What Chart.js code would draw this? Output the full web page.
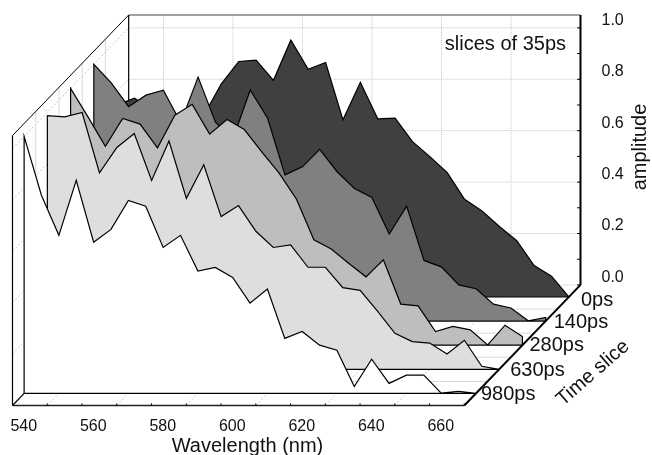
<!DOCTYPE html>
<html>
<head>
<meta charset="utf-8">
<script src="https://cdn.jsdelivr.net/npm/chart.js@4"></script>
<style>
html, body { margin: 0; padding: 0; background: #fff; }
canvas { display: block; }
</style>
</head>
<body>
<canvas id="chart" width="652" height="455"></canvas>
<script>
// values, one point each 5 nm
var wavelengths = [530,535,540,545,550,555,560,565,570,575,580,585,590,595,600,605,610,615,620,625,630,635,640,645,650,655,660];
var sliceLabels = ['0ps', '140ps', '280ps', '630ps', '980ps'];
var amp0ps   = [.747,.773,.728,.669,.650,.708,.829,.916,.921,.843,.999,.886,.912,.689,.835,.693,.696,.604,.546,.484,.380,.335,.274,.219,.122,.081,0];
var amp140ps = [.999,.927,.834,.879,.898,.772,.949,.774,.708,.899,.789,.569,.600,.668,.581,.516,.481,.339,.447,.236,.211,.141,.126,.066,.051,.001,.014];
var amp280ps = [.999,.888,.774,.882,.860,.768,.895,.937,.821,.878,.839,.752,.669,.568,.410,.374,.319,.266,.332,.160,.153,.053,.073,.060,.001,.078,.034];
var amp630ps = [.987,.982,.999,.764,.863,.917,.735,.888,.665,.796,.594,.637,.537,.474,.484,.397,.397,.318,.307,.226,.140,.108,.102,.060,.113,.012,0];
var amp980ps = [1,.770,.615,.829,.588,.638,.751,.728,.568,.615,.476,.490,.451,.351,.406,.214,.241,.188,.168,.027,.133,.039,.071,.071,.001,.008,0];
var sliceValues = [amp0ps, amp140ps, amp280ps, amp630ps, amp980ps];
var sliceFills = ['#404040', '#808080', '#bebebe', '#dedede', '#ffffff'];
var xTicks = [540,560,580,600,620,640,660];
var yTicks = [0,.2,.4,.6,.8,1];

var xMin = 530, xMax = 660, yTop = 1.05;
// oblique projection: one slice of depth shifts the plot by this much in axis units
var depthX = 6.686, depthY = 0.0938, nSlices = sliceLabels.length;

function proj(nm, amp, depth) {
  return { x: nm + depth * depthX, y: amp + (depth - nSlices) * depthY };
}

var datasets = [];
function addLine(points, color, width, dash) {
  datasets.push({
    data: points,
    showLine: true,
    borderColor: color,
    borderWidth: width,
    borderDash: dash || [],
    pointRadius: 0,
    tension: 0,
    fill: false,
    clip: false
  });
}

// floor, back wall and side wall grids
var gridGrey = '#c4c4c4';
xTicks.forEach(function(nm) {
  addLine([proj(nm, 0, nSlices), proj(nm, yTop, nSlices)], gridGrey, 1, [1, 1]);
  addLine([proj(nm, 0, 0), proj(nm, 0, nSlices)], gridGrey, 1, [2, 2]);
});
yTicks.forEach(function(a) {
  addLine([proj(xMin, a, nSlices), proj(xMax, a, nSlices)], gridGrey, 1, [1, 1]);
  addLine([proj(xMin, a, 0), proj(xMin, a, nSlices)], gridGrey, 1, [2, 2]);
});
for (var d = 1; d < nSlices; d++) {
  addLine([proj(xMin, 0, d), proj(xMax, 0, d)], '#d8d8d8', 1);
  addLine([proj(xMin, 0, d), proj(xMin, yTop, d)], '#d8d8d8', 1);
}

// back frame
addLine([proj(xMin, yTop, nSlices), proj(xMax, yTop, nSlices)], '#808080', 1.5);
addLine([proj(xMin, 0, nSlices), proj(xMin, yTop, nSlices)], '#000', 1.2);
addLine([proj(xMax, 0, nSlices), proj(xMax, yTop, nSlices)], '#000', 2);
addLine([proj(xMin, yTop, 0), proj(xMin, yTop, nSlices)], '#000', 1);
addLine([proj(xMin, 0, 0), proj(xMin, yTop, 0)], '#000', 1.2);
for (var t = 0; t <= 10; t++) {
  addLine([proj(xMax, t / 10, nSlices), proj(xMax - 1, t / 10, nSlices)], '#000', 1);
}

// slices from back to front, each one a closed outline
sliceValues.forEach(function(values, i) {
  var depth = nSlices - i - 0.5;
  var outline = [proj(xMin, 0, depth)];
  values.forEach(function(v, j) {
    outline.push(proj(wavelengths[j], v, depth));
  });
  outline.push(proj(xMax, 0, depth));
  outline.push(proj(xMin, 0, depth));
  addLine(outline, '#000', 1.2);
  var ds = datasets[datasets.length - 1];
  ds.fill = 'shape';
  ds.backgroundColor = sliceFills[i];
});

// front edges of the floor
addLine([proj(xMin, 0, 0), proj(xMax, 0, 0)], '#222', 1.5);
addLine([proj(xMax, 0, 0), proj(xMax, 0, nSlices)], '#000', 2);
addLine([proj(xMin, 0, 0), proj(xMin, 0, 0.5)], '#000', 1.2);
for (var n = 540; n <= 660; n += 10) {
  addLine([proj(n, 0, 0), proj(n, 0.008, 0)], '#000', 1);
}

// later datasets paint over earlier ones
datasets.forEach(function(ds, i) { ds.order = datasets.length - i; });

var textFont = '"Liberation Sans", Arial, sans-serif';
var labelNudgeX = [12, 8, 7, 11, 5];
var labelNudgeY = [3, 1, 0, 1, 1];

var labelsPlugin = {
  id: 'labels',
  afterDraw: function(chart) {
    var ctx = chart.ctx, sx = chart.scales.x, sy = chart.scales.y;
    ctx.save();
    ctx.fillStyle = '#111';
    ctx.textBaseline = 'middle';
    ctx.font = '20px ' + textFont;

    // depth labels beside the floor edge
    ctx.textAlign = 'left';
    sliceLabels.forEach(function(label, i) {
      var p = proj(xMax, 0, nSlices - i - 0.5);
      ctx.fillText(label, sx.getPixelForValue(p.x) + labelNudgeX[i], sy.getPixelForValue(p.y) + labelNudgeY[i]);
    });

    ctx.textAlign = 'center';
    ctx.fillText('Wavelength (nm)', 247.5, 446);

    ctx.textAlign = 'right';
    ctx.fillText('slices of 35ps', 566, 44);

    ctx.textAlign = 'center';
    ctx.save();
    ctx.translate(640, 147);
    ctx.rotate(-Math.PI / 2);
    ctx.fillText('amplitude', 0, 0);
    ctx.restore();

    ctx.save();
    ctx.translate(593, 373);
    ctx.rotate(-41 * Math.PI / 180);
    ctx.fillText('Time slice', 0, 0);
    ctx.restore();
    ctx.restore();
  }
};

new Chart(document.getElementById('chart'), {
  type: 'scatter',
  data: { datasets: datasets },
  plugins: [labelsPlugin],
  options: {
    responsive: false,
    animation: false,
    layout: { padding: { left: 12.5, top: 15, right: 0, bottom: 0 } },
    plugins: { legend: { display: false }, tooltip: { enabled: false } },
    scales: {
      x: {
        type: 'linear',
        position: 'bottom',
        min: xMin,
        max: xMax + nSlices * depthX,
        border: { display: false },
        grid: { display: false, drawTicks: false },
        afterBuildTicks: function(scale) {
          scale.ticks = xTicks.map(function(v) { return { value: v }; });
        },
        afterFit: function(scale) {
          scale.height = 49.5;
          scale.paddingLeft = scale.paddingRight = 0;
        },
        ticks: {
          autoSkip: false,
          maxRotation: 0,
          labelOffset: -23.5,
          padding: 11,
          color: '#111',
          font: { family: textFont, size: 16 },
          callback: function(v) { return String(v); }
        }
      },
      y: {
        type: 'linear',
        position: 'right',
        min: -nSlices * depthY,
        max: yTop,
        border: { display: false },
        grid: { display: false, drawTicks: false },
        afterBuildTicks: function(scale) {
          scale.ticks = yTicks.map(function(v) { return { value: v }; });
        },
        afterFit: function(scale) {
          scale.width = 71.5;
          scale.paddingTop = scale.paddingBottom = 0;
        },
        ticks: {
          labelOffset: -7.5,
          padding: 21,
          color: '#111',
          font: { family: textFont, size: 16 },
          callback: function(v) { return v.toFixed(1); }
        }
      }
    }
  }
});
</script>
</body>
</html>
